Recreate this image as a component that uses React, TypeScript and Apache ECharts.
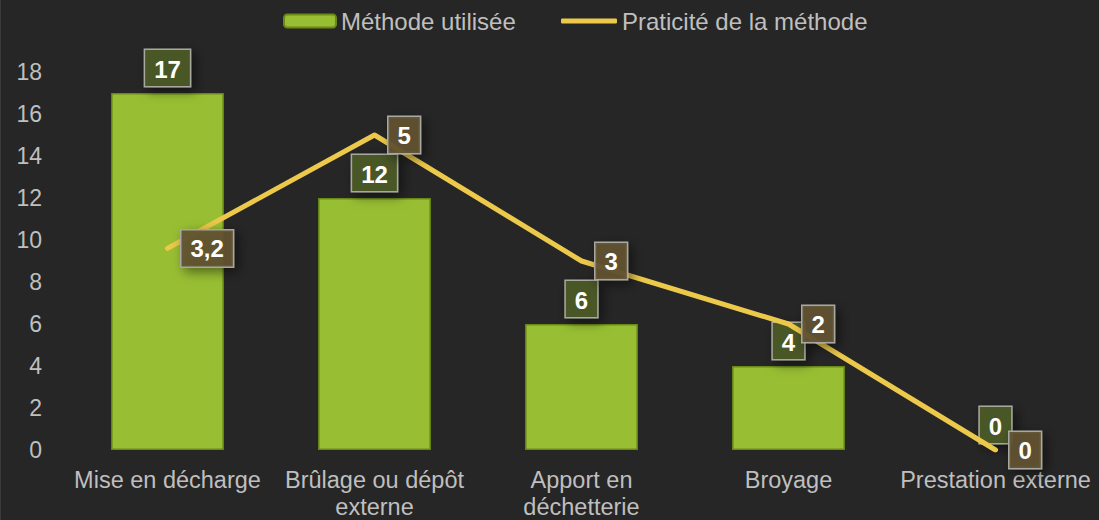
import React, { useEffect, useRef } from "react";
import * as echarts from "echarts";

const categories = [
  "Mise en décharge",
  "Brûlage ou dépôt\nexterne",
  "Apport en\ndéchetterie",
  "Broyage",
  "Prestation externe",
];
const methodeUtilisee = [17, 12, 6, 4, 0];
const praticite = [3.2, 5, 3, 2, 0];
const leftTicks = { min: 0, max: 18, interval: 2 };
const rightTicks = { min: 0, max: 6 };

const FONT = "Liberation Sans";

export default function App() {
  const ref = useRef<HTMLDivElement>(null);
  useEffect(() => {
    document.body.style.margin = "0";
    const chart = echarts.init(ref.current!, null, { renderer: "svg" });
    const labelBox = {
      color: "#ffffff",
      fontWeight: "bold",
      fontSize: 24,
      lineHeight: 24,
      fontFamily: FONT,
      borderColor: "#a8a8a0",
      borderWidth: 1.5,
      padding: [7, 9, 5, 9],
      shadowBlur: 12,
      shadowColor: "rgba(0,0,0,0.5)",
      shadowOffsetX: 4,
      shadowOffsetY: 4,
    };
    chart.setOption({
      animation: false,
      backgroundColor: "#262626",
      textStyle: { fontFamily: FONT },
      graphic: [
        {
          type: "line",
          shape: { x1: 0.5, y1: 0, x2: 0.5, y2: 520 },
          style: { stroke: "#3a3a3a", lineWidth: 1 },
          silent: true,
        },
      ],
      legend: [
        {
          left: 283,
          top: 9,
          padding: 0,
          itemWidth: 52,
          itemHeight: 13,
          itemGap: 5,
          textStyle: { color: "#bfbfbf", fontSize: 24, fontFamily: FONT },
          data: ["Méthode utilisée"],
        },
        {
          left: 561,
          top: 9,
          padding: 0,
          itemWidth: 56,
          itemHeight: 5,
          textStyle: { color: "#bfbfbf", fontSize: 24, fontFamily: FONT },
          data: [{ name: "Praticité de la méthode", icon: "roundRect" }],
        },
      ],
      grid: { left: 64, right: 0, top: 72, bottom: 70, containLabel: false },
      xAxis: {
        type: "category",
        data: categories,
        axisLine: { show: false },
        axisTick: { show: false },
        axisLabel: {
          color: "#bfbfbf",
          fontSize: 23.5,
          fontFamily: FONT,
          margin: 16,
          lineHeight: 27,
          interval: 0,
        },
      },
      yAxis: [
        {
          type: "value",
          ...leftTicks,
          splitLine: { show: false },
          axisLine: { show: false },
          axisTick: { show: false },
          axisLabel: { color: "#bfbfbf", fontSize: 23, fontFamily: FONT, margin: 22 },
        },
        {
          type: "value",
          ...rightTicks,
          show: false,
          splitLine: { show: false },
        },
      ],
      series: [
        {
          name: "Méthode utilisée",
          type: "bar",
          data: methodeUtilisee.map((v) =>
            v === 0 ? { value: v, itemStyle: { borderWidth: 0 } } : v
          ),
          barWidth: "54.5%",
          itemStyle: { color: "#98bf33", borderColor: "#6a8a18", borderWidth: 1.5 },
          label: {
            show: true,
            position: "top",
            distance: 7,
            backgroundColor: "#4a5727",
            ...labelBox,
          },
        },
        {
          name: "Praticité de la méthode",
          type: "line",
          yAxisIndex: 1,
          data: praticite,
          symbol: "circle",
          symbolSize: 2,
          showSymbol: true,
          lineStyle: { color: "#ecc94a", width: 5, cap: "round", join: "round" },
          itemStyle: { color: "#ecc94a" },
          z: 3,
          label: {
            show: true,
            position: "right",
            distance: 13,
            formatter: (p: any) => String(p.value).replace(".", ","),
            backgroundColor: "rgba(96,82,50,0.93)",
            ...labelBox,
          },
        },
      ],
    });
    return () => chart.dispose();
  }, []);
  return (
    <div
      ref={ref}
      style={{ position: "absolute", left: 0, top: 0, width: 1099, height: 520 }}
    />
  );
}
